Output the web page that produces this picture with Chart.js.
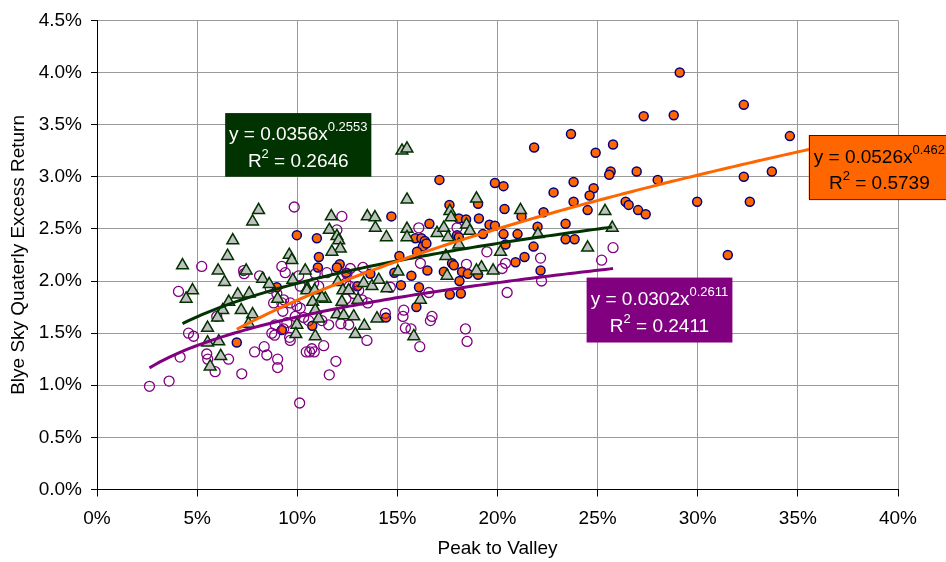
<!DOCTYPE html>
<html>
<head>
<meta charset="utf-8">
<script src="https://cdn.jsdelivr.net/npm/chart.js@4.4.1/dist/chart.umd.min.js"></script>
<style>
  html, body { margin: 0; padding: 0; background: #ffffff; }
  canvas { display: block; }
</style>
</head>
<body>
<canvas id="chart" width="946" height="562" style="width:946px;height:562px"></canvas>
<script>
// Peak-to-valley (x, %) against quarterly excess return (y, %)
const orangePoints = [
  [29.1, 4.00], [32.3, 3.69], [27.3, 3.58], [28.8, 3.59], [23.67, 3.41], [21.83, 3.28],
  [25.77, 3.31], [24.9, 3.23], [25.65, 3.05], [25.58, 3.02], [26.95, 3.05], [28.0, 2.97],
  [32.3, 3.00], [32.6, 2.76], [29.97, 2.76], [31.5, 2.25], [26.4, 2.76], [26.55, 2.73],
  [27.02, 2.68], [27.4, 2.64], [23.8, 2.95], [22.8, 2.85], [24.8, 2.89], [24.6, 2.82],
  [23.8, 2.76], [24.5, 2.68], [20.3, 2.91], [20.35, 2.69], [22.3, 2.66], [23.4, 2.55],
  [22.0, 2.52], [21.0, 2.45], [20.3, 2.45], [21.2, 2.62], [23.4, 2.40], [23.85, 2.40],
  [20.4, 2.35], [21.8, 2.33], [21.35, 2.23], [20.9, 2.18], [22.15, 2.10], [34.6, 3.39],
  [33.7, 3.05], [17.6, 2.73], [19.03, 2.74], [14.7, 2.62], [16.6, 2.55], [18.07, 2.60],
  [18.43, 2.59], [19.07, 2.60], [19.6, 2.54], [19.87, 2.53], [15.9, 2.41], [16.2, 2.41],
  [16.37, 2.385], [16.27, 2.33], [16.45, 2.36], [17.98, 2.44], [18.07, 2.42], [19.27, 2.45],
  [15.1, 2.24], [17.73, 2.17], [17.82, 2.15], [17.32, 2.09], [18.23, 2.09], [18.52, 2.07],
  [18.1, 2.00], [19.03, 2.06], [14.85, 2.08], [15.7, 2.05], [15.18, 1.96], [16.08, 1.94],
  [17.62, 1.87], [18.17, 1.88], [15.95, 1.75], [9.98, 2.44], [10.98, 2.41], [11.08, 2.23],
  [11.03, 2.13], [12.12, 2.16], [11.98, 2.13], [12.45, 2.08], [13.65, 2.07], [13.0, 1.95],
  [8.98, 1.94], [9.23, 1.53], [10.75, 1.57], [14.43, 1.65], [17.1, 2.97], [19.87, 2.94],
  [16.5, 2.10], [6.98, 1.41], [15.98, 2.28]
];

const trianglePoints = [
  [8.07, 2.68], [7.77, 2.57], [6.78, 2.39], [6.52, 2.24], [4.27, 2.15], [6.05, 2.10],
  [6.37, 1.99], [4.77, 1.91], [4.45, 1.83], [7.03, 1.87], [7.6, 1.88], [7.45, 2.10],
  [6.58, 1.80], [6.28, 1.72], [6.02, 1.65], [7.2, 1.72], [7.77, 1.68], [7.57, 1.59],
  [5.52, 1.55], [5.52, 1.41], [6.08, 1.42], [6.18, 1.28], [5.65, 1.18], [8.27, 2.02],
  [8.6, 1.97], [9.02, 1.83], [9.6, 2.25], [9.73, 2.20], [9.78, 2.01], [10.4, 2.10],
  [10.5, 1.93], [9.98, 1.58], [9.93, 1.49], [11.7, 2.62], [11.6, 2.49], [11.98, 2.43],
  [12.07, 2.39], [12.15, 2.31], [11.73, 2.28], [13.5, 2.62], [13.88, 2.61], [14.45, 2.42],
  [10.48, 1.91], [10.87, 1.91], [11.4, 1.83], [11.23, 1.84], [10.77, 1.80], [10.9, 1.72],
  [12.03, 1.99], [12.28, 1.91], [12.57, 1.91], [12.23, 1.80], [11.07, 1.64], [10.9, 1.47],
  [11.98, 1.68], [12.32, 1.67], [12.82, 1.66], [13.35, 1.57], [12.9, 1.49], [13.32, 1.98],
  [13.73, 1.95], [14.07, 2.01], [14.48, 1.93], [13.03, 1.82], [13.98, 1.64], [15.03, 2.09],
  [15.48, 2.78], [18.95, 2.79], [17.62, 2.67], [17.68, 2.61], [18.45, 2.54], [18.62, 2.48],
  [15.48, 2.50], [15.48, 2.42], [16.98, 2.46], [17.32, 2.51], [17.53, 2.42], [18.07, 2.35],
  [17.42, 2.24], [17.48, 2.05], [19.2, 2.13], [19.78, 2.10], [20.15, 2.28], [16.15, 1.82],
  [15.82, 1.47], [13.9, 2.51], [21.15, 2.68], [22.02, 2.45], [25.37, 2.67], [25.73, 2.51],
  [24.5, 2.32], [15.23, 3.25], [15.48, 3.27], [18.95, 2.10]
];

const hollowPoints = [
  [9.85, 2.71], [5.23, 2.14], [4.07, 1.90], [7.32, 2.10], [7.35, 2.07], [8.12, 2.05],
  [9.23, 2.14], [9.4, 2.08], [8.65, 1.93], [8.98, 1.88], [10.15, 1.95], [5.98, 1.66],
  [4.57, 1.50], [4.82, 1.47], [4.15, 1.27], [2.62, 0.99], [3.6, 1.04], [7.23, 1.11],
  [5.48, 1.30], [5.53, 1.25], [5.9, 1.13], [6.57, 1.25], [7.87, 1.32], [8.35, 1.37],
  [8.48, 1.29], [9.02, 1.25], [9.02, 1.17], [8.73, 1.50], [8.87, 1.48], [9.62, 1.46],
  [9.65, 1.43], [10.12, 0.83], [10.45, 1.32], [9.23, 1.79], [9.28, 1.71], [9.98, 1.76],
  [8.9, 1.58], [9.48, 1.60], [12.23, 2.62], [11.98, 2.49], [10.07, 2.05], [12.65, 2.12],
  [12.48, 2.07], [10.82, 1.98], [11.07, 1.95], [8.82, 1.79], [9.32, 1.82], [9.65, 1.79],
  [10.15, 1.74], [9.9, 1.66], [10.32, 1.65], [10.57, 1.62], [11.57, 1.58], [13.07, 1.91],
  [12.82, 1.88], [14.4, 1.69], [13.48, 1.43], [11.32, 1.38], [10.73, 1.35], [9.32, 1.54],
  [16.07, 2.51], [17.98, 2.51], [16.15, 2.17], [18.45, 2.16], [19.47, 2.28], [20.4, 2.17],
  [20.23, 2.12], [20.48, 1.89], [16.57, 1.89], [15.32, 1.72], [15.28, 1.66], [15.4, 1.55],
  [15.68, 1.54], [16.73, 1.66], [16.65, 1.62], [18.4, 1.54], [18.48, 1.42], [16.12, 1.37],
  [14.65, 1.94], [25.77, 2.32], [25.2, 2.20], [22.15, 2.22], [22.2, 2.00], [11.93, 1.23],
  [11.6, 1.10], [10.62, 1.32], [10.85, 1.32], [13.23, 1.82], [13.52, 1.79], [12.18, 1.59],
  [12.57, 1.58], [12.43, 1.98], [12.6, 1.95], [12.43, 1.83], [13.28, 2.13], [11.48, 2.08],
  [10.9, 2.07], [11.23, 1.62]
];

// Power trendlines y = a * x^b (x and y as fractions), one per series:
// orange circles, green triangles, purple hollow circles
const trendCoef = [0.0526, 0.0356, 0.0302];
const trendExp = [0.462, 0.2553, 0.2611];
const trendR2 = [0.5739, 0.2646, 0.2411];
const trendFrom = [6.98, 4.27, 2.62];
const trendTo = [36.0, 25.73, 25.77];

const xTickLabels = ['0%', '5%', '10%', '15%', '20%', '25%', '30%', '35%', '40%'];
const yTickLabels = ['0.0%', '0.5%', '1.0%', '1.5%', '2.0%', '2.5%', '3.0%', '3.5%', '4.0%', '4.5%'];

const FONT = "'Liberation Sans', Arial, sans-serif";
const trendColors = ['#FF6600', '#003300', '#800080'];

function trendCurve(i) {
  const pts = [];
  const step = 0.25;
  for (let x = trendFrom[i]; x < trendTo[i]; x += step) {
    pts.push({ x: x, y: 100 * trendCoef[i] * Math.pow(x / 100, trendExp[i]) });
  }
  const xe = trendTo[i];
  pts.push({ x: xe, y: 100 * trendCoef[i] * Math.pow(xe / 100, trendExp[i]) });
  return pts;
}

const toXY = arr => arr.map(p => ({ x: p[0], y: p[1] }));

// Equation boxes, placed in axis units
const equationBoxes = [
  { trend: 0, x0: 35.54, x1: 42.6, yTop: 3.40, yBottom: 2.785, fill: '#FF6600', stroke: '#222222', text: '#000000' },
  { trend: 1, x0: 6.4, x1: 13.7, yTop: 3.611, yBottom: 3.0, fill: '#003300', stroke: null, text: '#FFFFFF' },
  { trend: 2, x0: 24.45, x1: 31.73, yTop: 2.033, yBottom: 1.41, fill: '#800080', stroke: null, text: '#FFFFFF' }
];

const MAIN_FONT = '19px ' + FONT;
const SUP_FONT = '13px ' + FONT;

function drawRich(ctx, parts, cx, baseline) {
  const widths = parts.map(([t, sup]) => { ctx.font = sup ? SUP_FONT : MAIN_FONT; return ctx.measureText(t).width; });
  const total = widths.reduce((a, b) => a + b, 0);
  let xx = cx - total / 2;
  parts.forEach(([t, sup], k) => {
    ctx.font = sup ? SUP_FONT : MAIN_FONT;
    ctx.fillText(t, xx, sup ? baseline - 9 : baseline);
    xx += widths[k];
  });
}

const equationPlugin = {
  id: 'equationBoxes',
  afterDatasetsDraw(chart) {
    const { ctx } = chart;
    const xs = chart.scales.x, ys = chart.scales.y;
    ctx.save();
    equationBoxes.forEach(b => {
      const l = xs.getPixelForValue(b.x0), r = xs.getPixelForValue(b.x1);
      const t = ys.getPixelForValue(b.yTop), btm = ys.getPixelForValue(b.yBottom);
      ctx.fillStyle = b.fill;
      ctx.fillRect(l, t, r - l, btm - t);
      if (b.stroke) {
        ctx.strokeStyle = b.stroke;
        ctx.lineWidth = 1;
        ctx.strokeRect(Math.round(l) + 0.5, Math.round(t) + 0.5, r - l, btm - t);
      }
      const i = b.trend;
      const h = btm - t;
      const cx = (l + r) / 2;
      ctx.fillStyle = b.text;
      ctx.textAlign = 'left';
      ctx.textBaseline = 'alphabetic';
      drawRich(ctx, [['y = ' + trendCoef[i] + 'x', false], [String(trendExp[i]), true]], cx, t + 0.43 * h);
      drawRich(ctx, [['R', false], ['2', true], [' = ' + trendR2[i].toFixed(4), false]], cx, t + 0.84 * h);
    });
    ctx.restore();
  }
};

const trendDatasets = trendCoef.map((a, i) => ({
  data: trendCurve(i),
  showLine: true,
  borderColor: trendColors[i],
  backgroundColor: trendColors[i],
  borderWidth: 3,
  pointRadius: 0,
  fill: false,
  tension: 0
}));

new Chart(document.getElementById('chart'), {
  type: 'scatter',
  data: {
    datasets: [
      trendDatasets[0], trendDatasets[1], trendDatasets[2],
      {
        data: toXY(trianglePoints),
        pointStyle: 'triangle',
        pointRadius: 6.8,
        backgroundColor: '#C0C0C0',
        borderColor: '#003300',
        borderWidth: 1.5
      },
      {
        data: toXY(hollowPoints),
        pointStyle: 'circle',
        pointRadius: 5.0,
        backgroundColor: 'rgba(0,0,0,0)',
        borderColor: '#800080',
        borderWidth: 1.3
      },
      {
        data: toXY(orangePoints),
        pointStyle: 'circle',
        pointRadius: 4.5,
        backgroundColor: '#FF6600',
        borderColor: '#000080',
        borderWidth: 1.5
      }
    ]
  },
  options: {
    responsive: false,
    animation: false,
    events: [],
    layout: { padding: { top: 13, right: 48, left: 0, bottom: 0 } },
    plugins: { legend: { display: false }, tooltip: { enabled: false } },
    scales: {
      x: {
        type: 'linear',
        min: 0, max: 40,
        ticks: {
          stepSize: 5,
          color: '#000',
          padding: 11,
          font: { family: FONT, size: 19 },
          callback: v => xTickLabels[Math.round(v / 5)]
        },
        grid: { color: '#9a9a9a', lineWidth: 1, tickColor: '#000', tickLength: 7 },
        border: { color: '#000', width: 1 },
        title: { display: true, text: 'Peak to Valley', color: '#000', font: { family: FONT, size: 19 }, padding: { top: 0, bottom: 2 } },
        afterFit: s => { s.height = 72.5; }
      },
      y: {
        type: 'linear',
        min: 0, max: 4.5,
        ticks: {
          stepSize: 0.5,
          color: '#000',
          padding: 9,
          font: { family: FONT, size: 19 },
          callback: v => yTickLabels[Math.round(v / 0.5)]
        },
        grid: { color: '#9a9a9a', lineWidth: 1, tickColor: '#000', tickLength: 6 },
        border: { color: '#000', width: 1 },
        title: { display: true, text: 'Blye Sky Quaterly Excess Return', color: '#000', font: { family: FONT, size: 19 }, padding: { top: 7, bottom: 0 } },
        afterFit: s => { s.width = 97; }
      }
    }
  },
  plugins: [equationPlugin]
});
</script>
</body>
</html>
